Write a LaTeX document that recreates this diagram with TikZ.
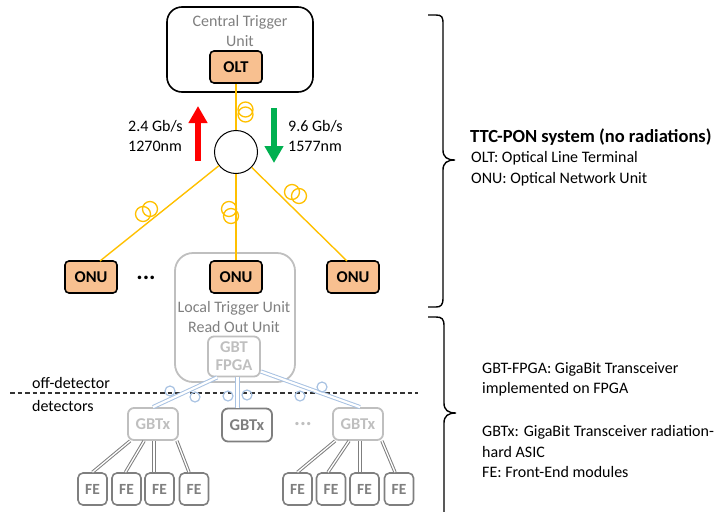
\documentclass[tikz,border=0pt]{standalone}
\usepackage{fontspec}
\setmainfont{Carlito}
\usetikzlibrary{arrows.meta,calc}
\definecolor{onuorange}{RGB}{248,192,144}
\definecolor{fibery}{RGB}{255,192,0}
\definecolor{lgray}{RGB}{191,191,191}
\definecolor{mgray}{RGB}{127,127,127}
\definecolor{dgray}{RGB}{110,110,110}
\definecolor{ltblue}{RGB}{168,194,226}
\definecolor{arrred}{RGB}{255,0,0}
\definecolor{arrgreen}{RGB}{0,176,80}
\begin{document}
\begin{tikzpicture}[x=1pt,y=-1pt,
  txt/.style={font=\fontsize{16}{20}\selectfont, inner sep=0pt},
  orangebox/.style={draw=black, line width=1.6pt, fill=onuorange, rounded corners=4pt,
    minimum width=52pt, minimum height=32pt, inner sep=0pt,
    font=\fontsize{16.5}{19}\selectfont\bfseries},
  fiber/.style={draw=fibery, line width=1.4pt},
  coilc/.style={draw=fibery, line width=1.3pt},
  bluefib/.style={draw=ltblue, line width=1pt, double=white, double distance=2.2pt},
  bluecoil/.style={draw=ltblue, line width=1.2pt},
  grayfib/.style={draw=mgray, line width=1pt, double=white, double distance=1.3pt},
  lbox/.style={draw=lgray, line width=1.8pt, rounded corners=6pt, inner sep=0pt,
    text=lgray, font=\fontsize{16.5}{19}\selectfont\bfseries, align=center},
  febox/.style={draw=mgray, line width=1.6pt, rounded corners=5pt, inner sep=0pt,
    minimum width=29pt, minimum height=32pt, text=mgray,
    font=\fontsize{15.5}{17}\selectfont\bfseries},
  bracestyle/.style={draw=black, line width=1.4pt},
  sep/.style={draw=black!80, line width=1.2pt, dash pattern=on 4.5pt off 3pt}
]
\useasboundingbox (0,0) rectangle (716,512);

% Central trigger unit
\node[draw=black, line width=1.6pt, rounded corners=15pt, minimum width=146pt,
  minimum height=85pt] (ctu) at (240,49.5) {};
\node[txt, text=mgray, align=center] (ctutxt) at (240,31) {Central Trigger\\Unit};
\node[orangebox] (olt) at (236,67) {OLT};

% splitter
\node[circle, draw=black, line width=1pt, minimum size=43pt, inner sep=0pt] (split) at (236,152) {};

% local trigger unit box
\node[draw=lgray, line width=1.8pt, rounded corners=18pt, minimum width=120pt,
  minimum height=129pt] (ltu) at (235,317.5) {};
\node[txt, text=mgray, align=center] (ltutxt) at (234,317) {Local Trigger Unit\\Read Out Unit};
\node[lbox, minimum width=52pt, minimum height=40pt] (fpga) at (234,356.5) {GBT\\[-1pt]FPGA};

% ONUs
\node[orangebox] (onuL) at (91,277) {ONU};
\node[orangebox] (onuM) at (236,277) {ONU};
\node[orangebox] (onuR) at (353,277) {ONU};
\node[font=\fontsize{24}{24}\selectfont\bfseries, inner sep=0pt] (dotsL) at (146,278) {...};

% fibers
\coordinate (onuLtop) at (100,261);
\coordinate (onuRtop) at (347,261);
\draw[fiber] (olt.south) -- (split.north);
\draw[fiber] (split) -- (onuLtop);
\draw[fiber] (split.south) -- (onuM.north);
\draw[fiber] (split) -- (onuRtop);
% coils
\draw[coilc] (245.5,109.5) circle[radius=7.5] (245.5,114.5) circle[radius=7.5];
\draw[coilc] (150,209) circle[radius=7.5] (143,214) circle[radius=7.5];
\draw[coilc] (229,209) circle[radius=7.5] (231,216) circle[radius=7.5];
\draw[coilc] (292,192) circle[radius=7.5] (299,196) circle[radius=7.5];

% arrows
\coordinate (ra1) at (198,161);
\coordinate (ra2) at (198,106);
\coordinate (ga1) at (274,108);
\coordinate (ga2) at (274,163);
\draw[arrred, line width=6pt, -{Triangle[length=17pt,width=18pt]}] (ra1) -- (ra2);
\draw[arrgreen, line width=6pt, -{Triangle[length=17pt,width=18pt]}] (ga1) -- (ga2);
\node[txt, anchor=west, align=left] (uptxt) at (128,136) {2.4 Gb/s\\1270nm};
\node[txt, anchor=west, align=left] (dntxt) at (288,136) {9.6 Gb/s\\1577nm};

% separator
\coordinate (dl) at (10,393);
\coordinate (dr) at (418,393);
\draw[sep] (dl) -- (dr);
\node[txt, anchor=west] (offd) at (32,383) {off-detector};
\node[txt, anchor=west] (ond) at (32,406) {detectors};

% GBTx
\node[lbox, minimum width=50pt, minimum height=32pt] (gbtxL) at (153,424) {GBTx};
\node[lbox, draw=mgray, text=mgray, minimum width=50pt, minimum height=33pt] (gbtxM) at (247,425) {GBTx};
\node[lbox, minimum width=50pt, minimum height=32pt] (gbtxR) at (358,424) {GBTx};
\node[font=\fontsize{22}{22}\selectfont\bfseries, text=lgray, inner sep=0pt] (dotsR) at (303,424) {...};

% blue links
\draw[bluefib] ([xshift=10pt]fpga.south west) -- (gbtxL.north);
\draw[bluefib] ([xshift=3.5pt]fpga.south) -- ([xshift=3.5pt]fpga.south |- gbtxM.north);
\draw[bluefib] ([yshift=-15pt]fpga.east) -- ([xshift=2pt]gbtxR.north);
\draw[bluecoil] (170,391) circle[radius=5] (195,397) circle[radius=5]
  (228,396) circle[radius=5] (247,395) circle[radius=5]
  (300,396) circle[radius=5] (322,387) circle[radius=5];

% FE boxes
\node[febox] (fe1) at (92.5,489) {FE};
\node[febox] (fe2) at (126.5,489) {FE};
\node[febox] (fe3) at (159.5,489) {FE};
\node[febox] (fe4) at (194,489) {FE};
\node[febox] (fe5) at (297.5,489) {FE};
\node[febox] (fe6) at (331,489) {FE};
\node[febox] (fe7) at (364.5,489) {FE};
\node[febox] (fe8) at (399,489) {FE};

\draw[grayfib] ([xshift=3pt]gbtxL.south west) -- (fe1.north);
\draw[grayfib] ([xshift=17pt]gbtxL.south west) -- ([xshift=-1pt]fe2.north);
\draw[grayfib] ([xshift=1pt]gbtxL.south) -- ([xshift=1pt]gbtxL.south |- fe3.north);
\draw[grayfib] ([xshift=-2pt]gbtxL.south east) -- ([xshift=-5pt]fe4.north);
\draw[grayfib] ([xshift=3pt]gbtxR.south west) -- (fe5.north);
\draw[grayfib] ([xshift=17pt]gbtxR.south west) -- ([xshift=-3pt]fe6.north);
\draw[grayfib] ([xshift=2pt]gbtxR.south) -- ([xshift=2pt]gbtxR.south |- fe7.north);
\draw[grayfib] ([xshift=-2pt]gbtxR.south east) -- ([xshift=-4pt]fe8.north);

% braces
\draw[bracestyle] (428,15) -- (436,15) .. controls (442,15) and (443,17) .. (443,24)
  -- (443,150) .. controls (443,157) and (447,160) .. (455,160)
  .. controls (447,160) and (443,163) .. (443,170)
  -- (443,298) .. controls (443,305) and (441,307) .. (436,307) -- (428,307);
\draw[bracestyle] (428,317) -- (436,317) .. controls (442,317) and (444,319) .. (444,326)
  -- (444,403) .. controls (444,410) and (448,413) .. (456,413)
  .. controls (448,413) and (444,416) .. (444,423)
  -- (444,512);

% legend texts
\node[font=\fontsize{18.5}{22}\selectfont\bfseries, inner sep=0pt, anchor=west] (ttl) at (470,137) {TTC-PON system (no radiations)};
\node[txt, anchor=west] (lg1) at (471,158) {OLT: Optical Line Terminal};
\node[txt, anchor=west] (lg2) at (471,179) {ONU: Optical Network Unit};
\node[txt, anchor=west] (lg3) at (482,369) {GBT-FPGA: GigaBit Transceiver};
\node[txt, anchor=west] (lg4) at (482,389) {implemented on FPGA};
\node[txt, anchor=west] (lg5) at (482,432) {GBTx: GigaBit Transceiver radiation-};
\node[txt, anchor=west] (lg6) at (482,452) {hard ASIC};
\node[txt, anchor=west] (lg7) at (482,472) {FE: Front-End modules};
\end{tikzpicture}
\end{document}
